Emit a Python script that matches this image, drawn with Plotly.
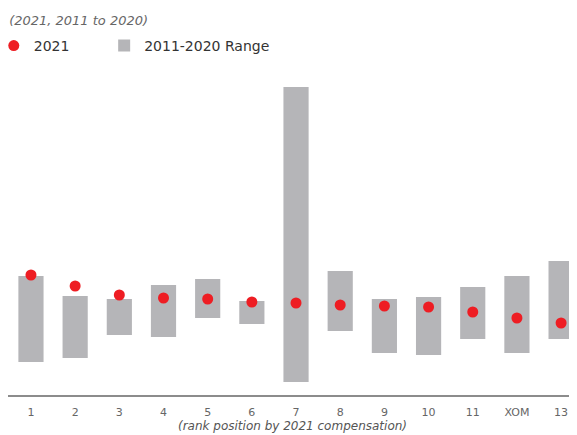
import plotly.graph_objects as go

categories = ["1", "2", "3", "4", "5", "6", "7", "8", "9", "10", "11", "XOM", "13"]
range_low = [3.3, 3.7, 6.0, 5.8, 7.7, 7.1, 1.3, 6.4, 4.2, 4.0, 5.6, 4.2, 5.6]
range_high = [11.9, 9.9, 9.6, 11.0, 11.6, 9.4, 30.8, 12.4, 9.6, 9.8, 10.8, 11.9, 13.4]
value_2021 = [12.0, 10.9, 10.0, 9.7, 9.6, 9.3, 9.2, 9.0, 8.9, 8.8, 8.3, 7.7, 7.2]

FONT = "DejaVu Sans"
W, H = 569, 427

fig = go.Figure()
fig.add_trace(go.Bar(
    x=categories,
    y=[h - l for h, l in zip(range_high, range_low)],
    base=range_low,
    width=0.57,
    marker=dict(color="#b5b5b8", line=dict(width=0)),
    name="2011-2020 Range",
    legend="legend2",
    hoverinfo="skip",
))
fig.add_trace(go.Scatter(
    x=categories,
    y=value_2021,
    mode="markers",
    marker=dict(color="#ee1d23", size=11, line=dict(width=0)),
    name="2021",
    legend="legend",
))

legend_common = dict(
    orientation="h", yanchor="middle", y=1.074,
    font=dict(family=FONT, size=14, color="#333"),
    bgcolor="rgba(0,0,0,0)",
)

fig.update_layout(
    width=W, height=H,
    paper_bgcolor="white", plot_bgcolor="white",
    margin=dict(l=0, r=0, t=62, b=40, autoexpand=False),
    font=dict(family=FONT, size=12, color="#444"),
    title=dict(
        text="<i>(2021, 2011 to 2020)</i>",
        x=0.002, xanchor="left", y=0.971, yanchor="middle",
        font=dict(family=FONT, size=13, color="#666"),
    ),
    legend=dict(x=-0.025, xanchor="left", **legend_common),
    legend2=dict(x=0.169, xanchor="left", **legend_common),
    showlegend=True,
)
fig.update_xaxes(
    type="category",
    range=[-0.52, 12.36],
    automargin=False,
    showline=True, linecolor="#8c8c8c", linewidth=2,
    showgrid=False, zeroline=False, ticks="",
    ticklabelstandoff=6,
    tickfont=dict(family=FONT, size=11, color="#666"),
    title=dict(text="<i>(rank position by 2021 compensation)</i>",
               font=dict(family=FONT, size=12, color="#555"), standoff=1),
)
fig.update_yaxes(
    range=[0, 32.5], visible=False, showgrid=False, zeroline=False,
    automargin=False,
)

fig.write_html("out.html")
